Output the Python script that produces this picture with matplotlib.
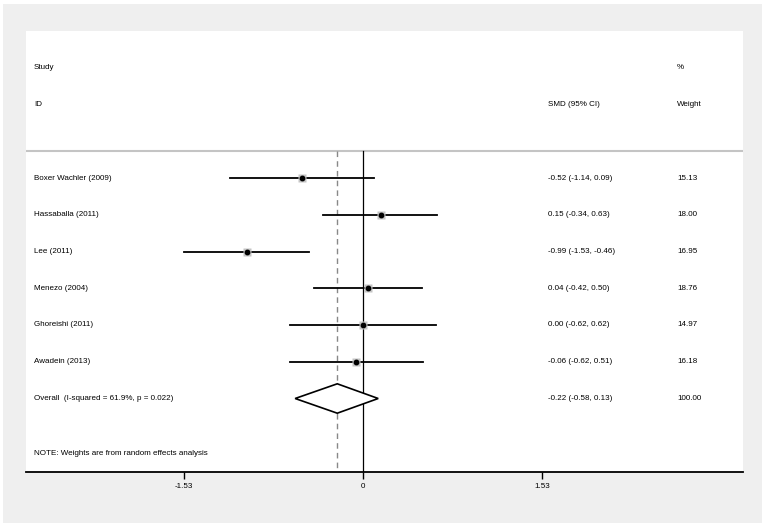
import matplotlib
matplotlib.use('Agg')
import matplotlib.pyplot as plt
from matplotlib.patches import Rectangle, Polygon

# Study data
studies = ["Boxer Wachler (2009)", "Hassaballa (2011)", "Lee (2011)",
           "Menezo (2004)", "Ghoreishi (2011)", "Awadein (2013)"]
smd = [-0.52, 0.15, -0.99, 0.04, 0.00, -0.06]
ci_low = [-1.14, -0.34, -1.53, -0.42, -0.62, -0.62]
ci_high = [0.09, 0.63, -0.46, 0.50, 0.62, 0.51]
weights = [15.13, 18.00, 16.95, 18.76, 14.97, 16.18]

overall_label = "Overall  (I-squared = 61.9%, p = 0.022)"
overall = [-0.22, -0.58, 0.13]
overall_weight = 100.00
xticks = [-1.53, 0, 1.53]
xtick_labels = ["-1.53", "0", "1.53"]

W, H = 764, 527
fig = plt.figure(figsize=(W / 100, H / 100), dpi=100, facecolor='white')

# gray outer panel (behind the axes)
fig.add_artist(Rectangle((3 / W, 4 / H), (762 - 3) / W, (523 - 4) / H,
                         transform=fig.transFigure, facecolor='#efefef',
                         edgecolor='none', zorder=-10))

left, right, top, bottom = 26, 743, 31, 472
ax = fig.add_axes([left / W, 1 - bottom / H, (right - left) / W, (bottom - top) / H])
ax.set_facecolor('white')
ax.set_zorder(1)

px_per_unit = 117.0
x0 = 363
ax.set_xlim((left - x0) / px_per_unit, (right - x0) / px_per_unit)
ax.set_ylim(8.0, -4.0)

for s in ['top', 'left', 'right']:
    ax.spines[s].set_visible(False)
ax.spines['bottom'].set_linewidth(1.3)
ax.set_yticks([])
ax.set_xticks(xticks)
ax.set_xticklabels(xtick_labels)
ax.tick_params(axis='x', direction='out', length=5, width=1, pad=3,
               labelsize=5.8)

fs = 5.8
font = 'Liberation Sans'
xl = ax.get_xlim()[0]
x_name = xl + 8 / px_per_unit
x_est = (548 - x0) / px_per_unit
x_wt = (677 - x0) / px_per_unit

# header
ax.text(x_name, -3, "Study", fontsize=fs, family=font, va='center')
ax.text(x_name, -2, "ID", fontsize=fs, family=font, va='center')
ax.text(x_est, -2, "SMD (95% CI)", fontsize=fs, family=font, va='center')
ax.text(x_wt, -3, "%", fontsize=fs, family=font, va='center')
ax.text(x_wt, -2, "Weight", fontsize=fs, family=font, va='center')
ax.axhline(-0.74, color='#c4c4c4', lw=1.5)

# reference lines
ax.plot([0, 0], [-0.74, 8], color='black', lw=0.9, zorder=2)
ax.plot([overall[0], overall[0]], [-0.74, 8], color='#888888', lw=1.0,
        ls=(0, (4, 3)), zorder=2)

for i, name in enumerate(studies):
    ax.plot([ci_low[i], ci_high[i]], [i, i], color='black', lw=1.3, zorder=3)
    ax.plot(smd[i], i, marker='s', ms=5.5, color='#c4c4c4', mec='none', zorder=4)
    ax.plot(smd[i], i, marker='o', ms=3.2, color='black', zorder=5)
    ax.text(x_name, i, name, fontsize=fs, family=font, va='center')
    ax.text(x_est, i, f"{smd[i]:.2f} ({ci_low[i]:.2f}, {ci_high[i]:.2f})",
            fontsize=fs, family=font, va='center')
    ax.text(x_wt, i, f"{weights[i]:.2f}", fontsize=fs, family=font, va='center')

yo = len(studies)
est, lo, hi = overall
ax.add_patch(Polygon([[lo, yo], [est, yo - 0.4], [hi, yo], [est, yo + 0.4]],
                     closed=True, facecolor='white', edgecolor='black', lw=1.2,
                     zorder=4))
ax.text(x_name, yo, overall_label, fontsize=fs, family=font, va='center')
ax.text(x_est, yo, f"{est:.2f} ({lo:.2f}, {hi:.2f})", fontsize=fs, family=font,
        va='center')
ax.text(x_wt, yo, f"{overall_weight:.2f}", fontsize=fs, family=font, va='center')

ax.text(x_name, 7.5, "NOTE: Weights are from random effects analysis",
        fontsize=fs, family=font, va='center')

for lab in ax.get_xticklabels():
    lab.set_family(font)

fig.savefig('out.png', dpi=100, facecolor='white')
